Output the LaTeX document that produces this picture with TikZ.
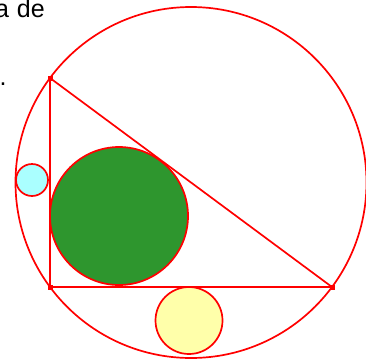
\documentclass[tikz,border=0pt]{standalone}
\usepackage{fontspec}
\setmainfont{Liberation Sans}
\usetikzlibrary{calc}
\definecolor{geored}{RGB}{255,0,0}
\definecolor{geogreen}{RGB}{46,150,46}
\definecolor{geocyan}{RGB}{170,255,255}
\definecolor{geoyellow}{RGB}{255,255,170}
\tikzset{
  edge/.style={draw=geored, line width=1.7pt},
  vertexdot/.style={fill=geored},
  lbl/.style={inner sep=0pt, font=\fontsize{25}{30}\selectfont}
}
\begin{document}
\begin{tikzpicture}[x=1pt,y=-1pt]
\useasboundingbox[fill=white] (0,0) rectangle (366,360);
\coordinate (A) at (50,78);
\coordinate (B) at (50,287);
\coordinate (C) at (332,287);
\coordinate (O) at (191,182.5);
% circumcircle
\draw[edge] (O) circle[radius=175.5];
% triangle
\draw[edge] (A) -- (B) -- (C) -- cycle;
% incircle
\draw[edge, fill=geogreen] (119,216) circle[radius=69];
% segment circles
\draw[edge, fill=geocyan] (32,180) circle[radius=16];
\draw[edge, fill=geoyellow] (189,320.5) circle[radius=33.5];
% vertex dots
\foreach \p in {A,B,C} \fill[vertexdot] ($(\p)+(-2.5,-2.5)$) rectangle ($(\p)+(2.5,2.5)$);
% text
\begin{scope}
\clip (0,0) rectangle (366,360);
\node[lbl, anchor=base east] (t1) at (45,17) {a\hspace{8pt}de};
\node[lbl, anchor=base west] (t2) at (-0.5,85) {.};
\end{scope}
\end{tikzpicture}
\end{document}
